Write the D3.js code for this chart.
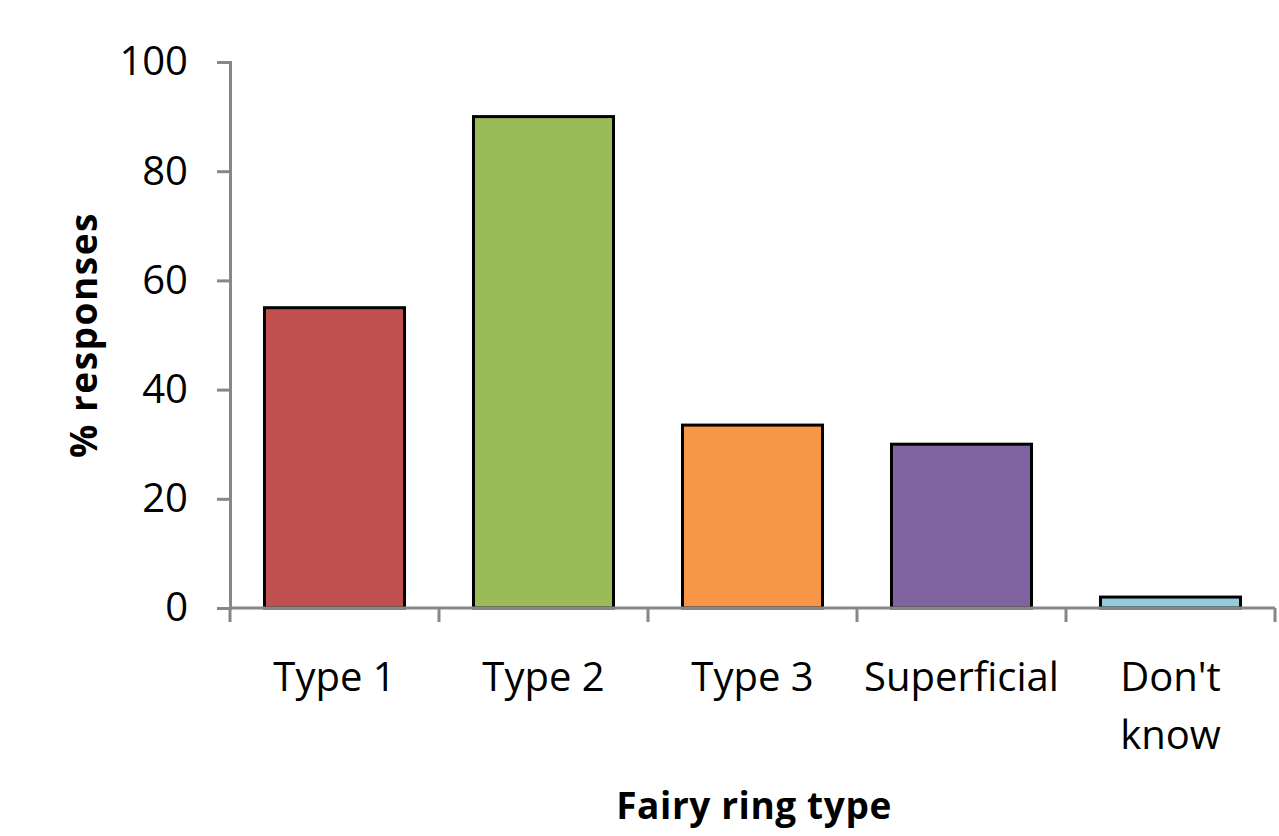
<!DOCTYPE html>
<html>
<head>
  <script src="https://d3js.org/d3.v7.min.js"></script>
  <style>
    body { margin: 0; background: #fff; }
    #chart { width: 1279px; height: 836px; }
    .axis text { font-family: "Open Sans", sans-serif; font-size: 40px; fill: #000; }
    .axis path, .axis line { stroke: #878787; stroke-width: 3; }
    .axisLabel { font-family: "Open Sans", sans-serif; font-size: 37px; font-weight: bold; }
  </style>
</head>
<body>
  <div id="chart"></div>
  <script>
    // data
    const categories = ["Type 1", "Type 2", "Type 3", "Superficial", "Don't know"];
    const values = [55, 90, 33.5, 30, 2];
    const colors = ["#C0504D", "#9BBB59", "#F79646", "#8064A2", "#92CDDC"];
    const yTicks = [0, 20, 40, 60, 80, 100];

    const width = 1279, height = 836;
    const margin = {top: 62, left: 230, right: 4, bottom: 228};

    const svg = d3.select("#chart").append("svg")
      .attr("width", width)
      .attr("height", height);

    const xScale = d3.scaleBand()
      .domain(categories)
      .range([margin.left, width - margin.right])
      .paddingInner(0.33)
      .paddingOuter(0.165);

    const yScale = d3.scaleLinear()
      .domain([0, 100])
      .range([height - margin.bottom, margin.top]);

    // bars
    svg.selectAll("rect")
      .data(categories)
      .enter()
      .append("rect")
        .attr("x", d => xScale(d))
        .attr("y", (d, i) => yScale(values[i]))
        .attr("width", xScale.bandwidth())
        .attr("height", (d, i) => yScale(0) - yScale(values[i]))
        .attr("fill", (d, i) => colors[i])
        .attr("stroke", "#000")
        .attr("stroke-width", 3);

    // y axis
    const yAxis = svg.append("g")
      .attr("class", "axis")
      .attr("transform", `translate(${margin.left},0)`)
      .call(d3.axisLeft(yScale).tickValues(yTicks).tickSize(13).tickSizeOuter(13).tickPadding(29));

    // x axis, ticks sit between categories
    const step = xScale.step();
    const edges = d3.range(categories.length + 1).map(i => margin.left + i * step);
    const xAxis = svg.append("g")
      .attr("class", "axis")
      .attr("transform", `translate(0,${height - margin.bottom})`);
    xAxis.append("path")
      .attr("d", `M${margin.left},0H${width - margin.right}`);
    xAxis.selectAll("line")
      .data(edges)
      .enter().append("line")
        .attr("x1", d => d).attr("x2", d => d)
        .attr("y1", 0).attr("y2", 14);

    // category labels, wrapped like the original
    const labelLines = {"Don't know": ["Don't", "know"]};
    xAxis.selectAll("text.cat")
      .data(categories)
      .enter().append("text")
        .attr("class", "cat")
        .attr("text-anchor", "middle")
        .attr("x", d => xScale(d) + xScale.bandwidth() / 2)
        .attr("y", 83)
        .each(function(d) {
          const lines = labelLines[d] || [d];
          d3.select(this).selectAll("tspan")
            .data(lines)
            .enter().append("tspan")
              .attr("x", xScale(d) + xScale.bandwidth() / 2)
              .attr("dy", (l, j) => j === 0 ? 0 : 58)
              .text(l => l);
        });

    // axis titles
    svg.append("text")
      .attr("class", "axisLabel")
      .attr("x", 754)
      .attr("y", 819)
      .attr("text-anchor", "middle")
      .style("letter-spacing", "0.6px")
      .text("Fairy ring type");

    svg.append("text")
      .attr("class", "axisLabel")
      .attr("transform", "rotate(-90)")
      .attr("x", -(margin.top + (height - margin.bottom)) / 2)
      .attr("y", 97)
      .attr("text-anchor", "middle")
      .style("letter-spacing", "1.5px")
      .text("% responses");
  </script>
</body>
</html>
